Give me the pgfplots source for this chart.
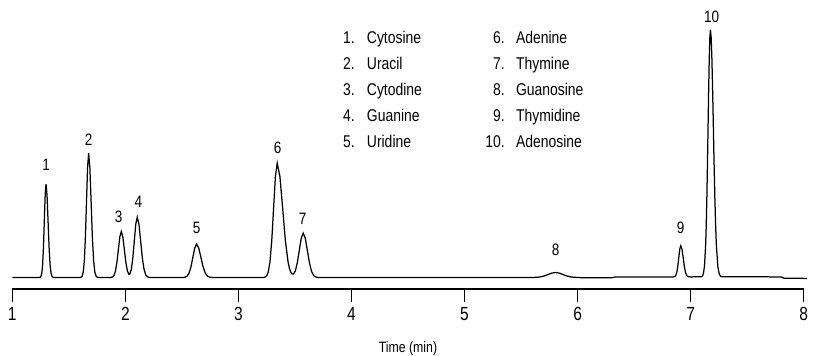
\documentclass[border=0pt]{standalone}
\usepackage{pgfplots}
\pgfplotsset{compat=1.18}
\usepackage{fontspec}
\setmainfont{Liberation Sans}[FakeStretch=0.82]

\newcommand{\legfont}{\fontsize{17}{19}\selectfont}
\newcommand{\pkfont}{\fontsize{16.5}{18}\selectfont}

\begin{document}
\begin{tikzpicture}
\begin{axis}[
  scale only axis, width=791.4pt, height=289pt,
  xmin=1, xmax=8, ymin=-11.5, ymax=277.5,
  axis x line=bottom, axis y line=none,
  x axis line style={-, line width=1.2pt},
  xtick={1,2,3,4,5,6,7,8},
  tick align=outside,
  major tick length=13pt,
  xtick style={line width=1.2pt, black},
  xticklabel style={font=\fontsize{19}{19}\selectfont, yshift=-2pt},
  /pgf/number format/assume math mode=true,
  clip=false,
]
% chromatogram trace (retention time in min, detector response)
\addplot[black, line width=1.25pt] coordinates {
(1.00,0) (1.24,0)
(1.2455,0.2) (1.253,1.04) (1.2605,4.10) (1.268,12.64) (1.2755,30.33) (1.283,56.65) (1.2905,82.43) (1.298,93.4)
(1.307,82.43) (1.316,56.65) (1.325,30.33) (1.334,12.64) (1.343,4.10) (1.352,1.04) (1.361,0.2) (1.370,0.03)
(1.60,0)
(1.6085,0.27) (1.618,1.38) (1.6275,5.46) (1.637,16.83) (1.6465,40.39) (1.656,75.45) (1.6655,109.78) (1.675,124.4)
(1.686,109.78) (1.697,75.45) (1.708,40.39) (1.719,16.83) (1.730,5.46) (1.741,1.38) (1.752,0.27) (1.763,0.04)
(1.86,0)
(1.873,0.1) (1.886,0.51) (1.899,2.02) (1.912,6.22) (1.925,14.94) (1.938,27.9) (1.951,40.6) (1.964,46)
(1.9775,40.6) (1.991,27.9) (2.0045,14.97) (2.018,6.44) (2.0315,3.12) (2.04,3.53) (2.053,8.37) (2.066,19.65)
(2.079,36.63) (2.092,53.30) (2.105,60.4) (2.120,53.30) (2.135,36.63) (2.150,19.61) (2.165,8.17) (2.180,2.65)
(2.195,0.67) (2.210,0.13) (2.225,0.02)
(2.50,0)
(2.5145,0.07) (2.531,0.37) (2.5475,1.47) (2.564,4.52) (2.5805,10.84) (2.597,20.26) (2.6135,29.48) (2.63,33.4)
(2.649,29.48) (2.668,20.26) (2.687,10.84) (2.706,4.52) (2.725,1.47) (2.744,0.37) (2.763,0.07) (2.782,0.01)
(3.22,0)
(3.231,0.25) (3.247,1.27) (3.263,5.02) (3.279,15.48) (3.295,37.15) (3.311,69.38) (3.327,100.96) (3.343,114.4)
(3.367,100.96) (3.391,69.38) (3.415,37.15) (3.439,15.51) (3.4505,9.39) (3.463,5.34) (3.475,3.49) (3.487,3.44)
(3.503,6.45) (3.5205,14.54) (3.538,26.96) (3.5555,39.18) (3.573,44.4) (3.5915,39.18) (3.610,26.93) (3.6285,14.42)
(3.647,6.01) (3.6655,1.95) (3.684,0.49) (3.7025,0.10) (3.721,0.02)
(5.60,0)
(5.61,0.06) (5.6425,0.22) (5.675,0.68) (5.7075,1.62) (5.74,3.03) (5.7725,4.41) (5.805,5.0)
(5.8375,4.41) (5.87,3.03) (5.9025,1.62) (5.935,0.68) (5.9675,0.22) (6.0,0.06)
(6.03,-0.2) (6.3,-0.3) (6.33,0.4) (6.84,0.5)
(6.85,0.67) (6.859,0.95) (6.868,1.99) (6.877,4.89) (6.886,10.89) (6.895,19.83) (6.904,28.4) (6.913,31.7)
(6.9235,28.4) (6.934,19.83) (6.9445,10.89) (6.955,4.89) (6.9655,1.99) (6.976,0.95) (6.9865,0.67) (7.0,0.6)
(7.091,0.68) (7.1015,1.14) (7.112,3.35) (7.1225,11.4) (7.133,33.51) (7.13825,53.58) (7.1435,80.43) (7.14875,113.40)
(7.154,150.23) (7.15925,186.96) (7.1645,218.60) (7.16975,240.07) (7.175,247.7)
(7.1815,240.07) (7.188,218.60) (7.1945,186.96) (7.201,150.23) (7.2075,113.40) (7.214,80.43) (7.2205,53.58)
(7.227,33.51) (7.24,11.4) (7.253,3.3) (7.266,1.14) (7.279,0.68)
(7.80,0.6) (7.83,-0.8) (8.03,-0.9)
};

% peak numbers
\node[font=\pkfont] at (axis cs:1.298,112.5) {1};
\node[font=\pkfont] at (axis cs:1.676,137.5) {2};
\node[font=\pkfont] at (axis cs:1.940,60.8) {3};
\node[font=\pkfont] at (axis cs:2.114,75.8) {4};
\node[font=\pkfont] at (axis cs:2.631,49.8) {5};
\node[font=\pkfont] at (axis cs:3.347,129.2) {6};
\node[font=\pkfont] at (axis cs:3.569,58.5) {7};
\node[font=\pkfont] at (axis cs:5.806,27.5) {8};
\node[font=\pkfont] at (axis cs:6.912,49.2) {9};
\node[font=\pkfont] at (axis cs:7.186,260.2) {10};

% compound key
\begin{scope}[every node/.style={font=\legfont, inner sep=0pt}]
\node[anchor=base east] at (axis cs:4.031,233.5) {1.};
\node[anchor=base east] at (axis cs:4.031,207.8) {2.};
\node[anchor=base east] at (axis cs:4.031,181.8) {3.};
\node[anchor=base east] at (axis cs:4.031,155.8) {4.};
\node[anchor=base east] at (axis cs:4.031,130.1) {5.};
\node[anchor=base west] at (axis cs:4.135,233.5) {Cytosine};
\node[anchor=base west] at (axis cs:4.135,207.8) {Uracil};
\node[anchor=base west] at (axis cs:4.135,181.8) {Cytodine};
\node[anchor=base west] at (axis cs:4.135,155.8) {Guanine};
\node[anchor=base west] at (axis cs:4.135,130.1) {Uridine};
\node[anchor=base east] at (axis cs:5.357,233.5) {6.};
\node[anchor=base east] at (axis cs:5.357,207.8) {7.};
\node[anchor=base east] at (axis cs:5.357,181.8) {8.};
\node[anchor=base east] at (axis cs:5.357,155.8) {9.};
\node[anchor=base east] at (axis cs:5.357,130.1) {10.};
\node[anchor=base west] at (axis cs:5.454,233.5) {Adenine};
\node[anchor=base west] at (axis cs:5.454,207.8) {Thymine};
\node[anchor=base west] at (axis cs:5.454,181.8) {Guanosine};
\node[anchor=base west] at (axis cs:5.454,155.8) {Thymidine};
\node[anchor=base west] at (axis cs:5.454,130.1) {Adenosine};
\end{scope}

% axis title
\node[anchor=base, font=\fontsize{15}{17}\selectfont] at (axis cs:4.5,-75.2) {Time (min)};

\coordinate (bl) at (axis cs:0.891,-78.5);
\coordinate (tr) at (axis cs:8.0823,277.5);
\end{axis}
\pgfresetboundingbox
\path (bl) rectangle (tr);
\end{tikzpicture}
\end{document}
